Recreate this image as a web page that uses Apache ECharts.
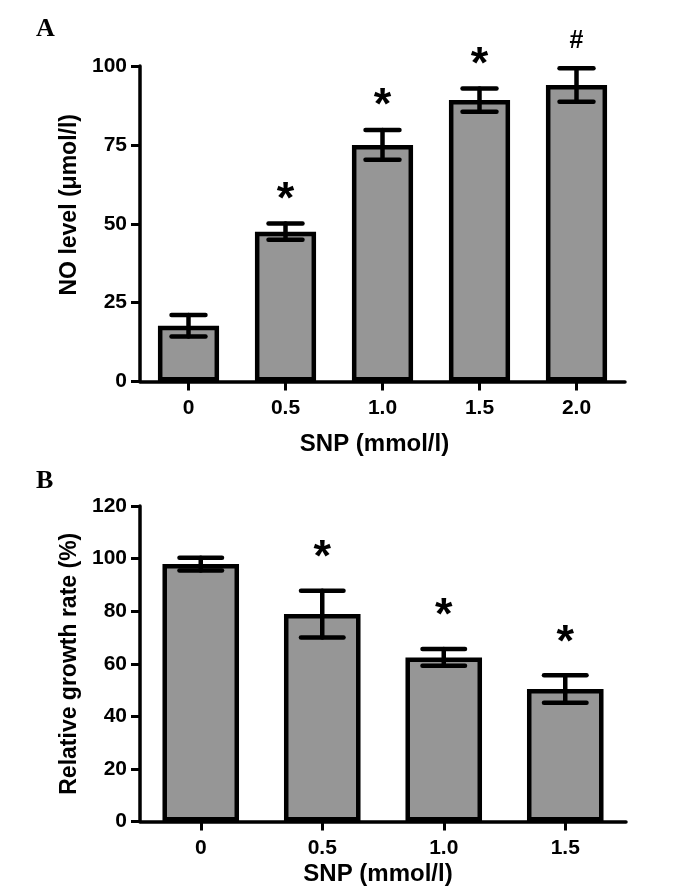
<!DOCTYPE html>
<html>
<head>
<meta charset="utf-8">
<script src="https://cdn.jsdelivr.net/npm/echarts@6/dist/echarts.min.js"></script>
<style>
html,body{margin:0;padding:0;background:#fff;}
#chart{width:688px;height:888px;}
</style>
</head>
<body>
<div id="chart"></div>
<script>
// Panel A data
var catsA = ['0', '0.5', '1.0', '1.5', '2.0'];
var meanA = [17.7, 47.5, 75.0, 89.2, 94.0];
var errA  = [3.4, 2.6, 4.7, 3.7, 5.3];
var markA = ['', '*', '*', '*', '#'];
var ticksA = {min: 0, max: 100, interval: 25};

// Panel B data
var catsB = ['0', '0.5', '1.0', '1.5'];
var meanB = [97.9, 78.9, 62.4, 50.4];
var errB  = [2.4, 8.9, 3.2, 5.2];
var markB = ['', '*', '*', '*'];
var ticksB = {min: 0, max: 120, interval: 20};

var FONT = '"Liberation Sans", Arial, sans-serif';
var BAR_FILL = '#969696';

function errSeries(xi, yi, mean, err, marks, gap) {
  var data = mean.map(function (m, i) { return [i, m, err[i]]; });
  return {
    type: 'custom',
    xAxisIndex: xi,
    yAxisIndex: yi,
    z: 10,
    silent: true,
    data: data,
    renderItem: function (params, api) {
      var i = api.value(0), m = api.value(1), e = api.value(2);
      var top = api.coord([i, m + e]);
      var bot = api.coord([i, m - e]);
      var half = api.size([1, 0])[0] * 0.175;
      var st = {stroke: '#000', lineWidth: 4.5, lineCap: 'round'};
      var children = [
        {type: 'line', shape: {x1: top[0], y1: top[1], x2: bot[0], y2: bot[1]}, style: st},
        {type: 'line', shape: {x1: top[0] - half, y1: top[1], x2: top[0] + half, y2: top[1]}, style: st},
        {type: 'line', shape: {x1: bot[0] - half, y1: bot[1], x2: bot[0] + half, y2: bot[1]}, style: st}
      ];
      var mk = marks[params.dataIndex];
      if (mk) {
        var isStar = mk === '*';
        children.push({
          type: 'text',
          x: top[0],
          y: top[1] - gap + (isStar ? 8 : 4),
          style: {
            text: mk,
            fill: '#000',
            font: 'bold ' + (isStar ? 45 : 25) + 'px ' + FONT,
            align: 'center',
            verticalAlign: 'middle'
          }
        });
      }
      return {type: 'group', children: children};
    }
  };
}

function xAxisDef(gi, cats, name, gap, pad) {
  return {
    type: 'category',
    gridIndex: gi,
    data: cats,
    boundaryGap: true,
    axisLine: {show: true, lineStyle: {color: '#000', width: 3.5}},
    axisTick: {show: true, alignWithLabel: true, length: 9, lineStyle: {color: '#000', width: 3}},
    axisLabel: {color: '#000', fontFamily: FONT, fontWeight: 'bold', fontSize: 21, margin: 16},
    name: name,
    nameLocation: 'middle',
    nameGap: gap,
    nameTextStyle: {color: '#000', fontFamily: FONT, fontWeight: 'bold', fontSize: 24, padding: pad}
  };
}

function yAxisDef(gi, t, name, gap, pad) {
  return {
    type: 'value',
    gridIndex: gi,
    min: t.min, max: t.max, interval: t.interval,
    splitLine: {show: false},
    axisLine: {show: true, lineStyle: {color: '#000', width: 3.5}},
    axisTick: {show: true, length: 9, lineStyle: {color: '#000', width: 3}},
    axisLabel: {color: '#000', fontFamily: FONT, fontWeight: 'bold', fontSize: 21, margin: 13},
    name: name,
    nameLocation: 'middle',
    nameRotate: 90,
    nameGap: gap,
    nameTextStyle: {color: '#000', fontFamily: FONT, fontWeight: 'bold', fontSize: 23, padding: pad}
  };
}

var chart = echarts.init(document.getElementById('chart'), null, {renderer: 'canvas'});
chart.setOption({
  backgroundColor: '#fff',
  animation: false,
  grid: [
    {left: 140, top: 66, width: 485, height: 315.5},
    {left: 140, top: 506, width: 486, height: 315.5}
  ],
  xAxis: [
    xAxisDef(0, catsA, 'SNP (mmol/l)', 51, [0, 16, 0, 0]),
    xAxisDef(1, catsB, 'SNP (mmol/l)', 41, [0, 10, 0, 0])
  ],
  yAxis: [
    yAxisDef(0, ticksA, 'NO level (μmol/l)', 52, [0, 0, 0, 38]),
    yAxisDef(1, ticksB, 'Relative growth rate (%)', 52, [0, 0, 0, 0])
  ],
  graphic: [
    {type: 'text', left: 36, top: 16, style: {text: 'A', fill: '#000', font: 'bold 26px "Liberation Serif", "Times New Roman", serif'}},
    {type: 'text', left: 36, top: 468, style: {text: 'B', fill: '#000', font: 'bold 26px "Liberation Serif", "Times New Roman", serif'}}
  ],
  series: [
    {type: 'bar', xAxisIndex: 0, yAxisIndex: 0, data: meanA, barWidth: '63%',
     itemStyle: {color: BAR_FILL, borderColor: '#000', borderWidth: 4.5}},
    errSeries(0, 0, meanA, errA, markA, 31),
    {type: 'bar', xAxisIndex: 1, yAxisIndex: 1, data: meanB, barWidth: '63%',
     itemStyle: {color: BAR_FILL, borderColor: '#000', borderWidth: 4.5}},
    errSeries(1, 1, meanB, errB, markB, 40)
  ]
});
</script>
</body>
</html>
